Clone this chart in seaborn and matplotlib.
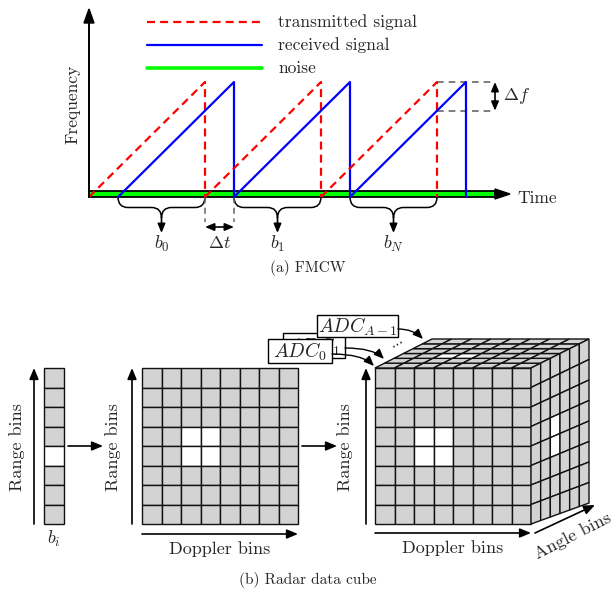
import numpy as np
import matplotlib
matplotlib.use('Agg')
import matplotlib.pyplot as plt
import seaborn as sns
from matplotlib.patches import Polygon, Rectangle, PathPatch
from matplotlib.path import Path

sns.set_style('white')
plt.rcParams['font.family'] = ['cmr10', 'DejaVu Serif']
plt.rcParams['mathtext.fontset'] = 'cm'
plt.rcParams['axes.unicode_minus'] = False

# ---------------- data ----------------
legend_labels = ['transmitted signal', 'received signal', 'noise']
chirp_starts = [0, 4, 8]        # start time of each transmitted chirp
chirp_length = 4                # chirp duration
echo_delay = 1                  # delay of the received echo
time_end = 14                   # end of time axis / noise band
brace_labels = [r'$b_0$', r'$b_1$', r'$b_N$']

n_range_bins = 8
n_doppler_bins = 8
n_angle_bins = 6
column_peak = [(0, 4)]                          # (col, range)
rd_peak = [(2, 3), (3, 3), (2, 4), (3, 4)]      # (doppler, range)
top_peak = [(2, 2), (3, 2)]                     # (doppler, angle)
side_peak = [(2, 3), (2, 4)]                    # (angle, range)
adc_labels = [r'$ADC_0$', r'$ADC_1$', r'$ADC_{A-1}$']

RED, BLUE, GREEN, GRAY = '#ff0000', '#0000ff', '#00ff00', '#d3d3d3'
DGRAY = '#666666'

fig = plt.figure(figsize=(6.15, 5.97), dpi=100)
ax = fig.add_axes([0, 0, 1, 1])
ax.set_xlim(0, 615)
ax.set_ylim(597, 0)
ax.axis('off')

# ---------------- helpers ----------------
def arrow(p0, p1, both=False, ms=12, lw=1.2, color='black', cs=None):
    style = '<|-|>' if both else '-|>'
    style += ',head_length=0.6,head_width=0.25'
    props = dict(arrowstyle=style, mutation_scale=ms, lw=lw, color=color,
                 shrinkA=0, shrinkB=0)
    if cs:
        props['connectionstyle'] = cs
    ax.annotate('', xy=p1, xytext=p0, arrowprops=props)

# ---------------- (a) FMCW ----------------
X0, PX, Y0, FH = 89, 29, 197, 115
def T(t): return X0 + PX * t
def F(f): return Y0 - FH * f

dash = (0, (3.6, 2.3))
# noise band
ax.add_patch(Rectangle((T(0), Y0 - 6), T(time_end) - T(0), 6, fc=GREEN,
                       ec='black', lw=1.3, zorder=2))
# axes arrows
ax.plot([T(0), T(0)], [Y0, 22], color='black', lw=1.4, zorder=4)
ax.add_patch(Polygon([(T(0) - 5, 23), (T(0), 9), (T(0) + 5, 23)], fc='black', ec='black', zorder=4))
ax.add_patch(Polygon([(T(time_end), Y0 - 8), (T(time_end) + 15, Y0 - 3),
                      (T(time_end), Y0 + 2)], fc='black', ec='black', zorder=4))

for s in chirp_starts:
    ax.plot([T(s), T(s + chirp_length), T(s + chirp_length)], [F(0), F(1), F(0)],
            color=RED, lw=1.6, linestyle=dash, zorder=3)
    r = s + echo_delay
    ax.plot([T(r), T(r + chirp_length), T(r + chirp_length)], [F(0), F(1), F(0)],
            color=BLUE, lw=1.6, zorder=3)

# legend
for k, (lab, col) in enumerate(zip(legend_labels, [RED, BLUE, GREEN])):
    y = 22 + 23 * k
    ls = dash if k == 0 else '-'
    lw = 1.6 if k < 2 else 2.6
    ax.plot([147, 262], [y, y], color=col, lw=lw, linestyle=ls)
    ax.text(278, y, lab, fontsize=12.6, va='center', ha='left')

ax.text(73, 104, 'Frequency', rotation=90, fontsize=12.6, ha='center', va='center')
ax.text(517, 198, 'Time', fontsize=12.6, ha='left', va='center')

# delta f
t_last = chirp_starts[-1] + chirp_length
f_rx = (t_last - (chirp_starts[-1] + echo_delay)) / chirp_length
for f in [1, f_rx]:
    ax.plot([T(t_last), T(time_end)], [F(f), F(f)], color=DGRAY, lw=1.2,
            linestyle=(0, (4, 3)))
arrow((T(time_end), F(1)), (T(time_end), F(f_rx)), both=True, ms=9)
ax.text(T(time_end) + 8, (F(1) + F(f_rx)) / 2, r'$\Delta f$', fontsize=13,
        ha='left', va='center')

# delta t
ta, tb = chirp_starts[1], chirp_starts[1] + echo_delay
for t in [ta, tb]:
    ax.plot([T(t), T(t)], [Y0, Y0 + 25], color=DGRAY, lw=1.1, linestyle=(0, (4, 3)))
arrow((T(ta), Y0 + 30), (T(tb), Y0 + 30), both=True, ms=9)
ax.text(T((ta + tb) / 2), 243, r'$\Delta t$', fontsize=13, ha='center', va='center')

# braces
def brace(x0, x1, y, h=21, r=10):
    xm = (x0 + x1) / 2
    h2 = h / 2
    verts = [(x0, y), (x0, y + h2), (x0 + r, y + h2),
             (xm - r, y + h2),
             (xm, y + h2), (xm, y + h),
             (xm, y + h2), (xm + r, y + h2),
             (x1 - r, y + h2),
             (x1, y + h2), (x1, y)]
    codes = [Path.MOVETO, Path.CURVE3, Path.CURVE3, Path.LINETO,
             Path.CURVE3, Path.CURVE3, Path.CURVE3, Path.CURVE3,
             Path.LINETO, Path.CURVE3, Path.CURVE3]
    ax.add_patch(PathPatch(Path(verts, codes), fc='none', ec='black', lw=1.1))
    return xm, y + h

for s, lab in zip(chirp_starts, brace_labels):
    xm, yt = brace(T(s + echo_delay), T(s + chirp_length), Y0)
    arrow((xm, yt), (xm, yt + 15), ms=9)
    ax.text(xm, 244, lab, fontsize=13, ha='center', va='center')

ax.text(308, 268, '(a) FMCW', fontsize=11, ha='center', va='center')

# ---------------- (b) Radar data cube ----------------
def bilerp(P, u, v):
    p00, p10, p01, p11 = [np.array(p, float) for p in P]
    return (1 - u) * (1 - v) * p00 + u * (1 - v) * p10 + (1 - u) * v * p01 + u * v * p11

def face(P, nu, nv, peaks):
    for i in range(nu):
        for j in range(nv):
            c = [bilerp(P, i / nu, j / nv), bilerp(P, (i + 1) / nu, j / nv),
                 bilerp(P, (i + 1) / nu, (j + 1) / nv), bilerp(P, i / nu, (j + 1) / nv)]
            fc = 'white' if (i, j) in peaks else GRAY
            ax.add_patch(Polygon(c, closed=True, fc=fc, ec='#111111', lw=1.0))

TOP, BOT = 368, 524
# range column
face([(44, TOP), (64, TOP), (44, BOT), (64, BOT)], 1, n_range_bins, column_peak)
arrow((34, BOT), (34, TOP), ms=11)
ax.text(17, 447, 'Range bins', rotation=90, fontsize=13, ha='center', va='center')
ax.text(54, 539, r'$b_i$', fontsize=13, ha='center', va='center')
arrow((68, 446), (103, 446), ms=11)

# range-doppler map
GL, GR = 142, 298
face([(GL, TOP), (GR, TOP), (GL, BOT), (GR, BOT)], n_doppler_bins, n_range_bins, rd_peak)
arrow((132, BOT), (132, TOP), ms=11)
ax.text(113, 447, 'Range bins', rotation=90, fontsize=13, ha='center', va='center')
arrow((GL, 534), (GR, 534), ms=11)
ax.text(220, 549, 'Doppler bins', fontsize=13, ha='center', va='center')
arrow((302, 446), (337, 446), ms=11)

# cube
CL, CR = 375, 531
BTL, BTR, BBR = (432, 339), (589, 339), (589, 503)
face([(CL, TOP), (CR, TOP), (CL, BOT), (CR, BOT)], n_doppler_bins, n_range_bins, rd_peak)
face([(CL, TOP), (CR, TOP), BTL, BTR], n_doppler_bins, n_angle_bins, top_peak)
face([(CR, TOP), BTR, (CR, BOT), BBR], n_angle_bins, n_range_bins, side_peak)
arrow((366, BOT), (366, TOP), ms=11)
ax.text(345, 447, 'Range bins', rotation=90, fontsize=13, ha='center', va='center')
arrow((CL, 533), (CR, 533), ms=11)
ax.text(453, 548, 'Doppler bins', fontsize=13, ha='center', va='center')
arrow((535, 533), (595, 505), ms=11)
ax.text(573, 536, 'Angle bins', rotation=27, fontsize=13, ha='center', va='center',
        rotation_mode='anchor')

# ADC boxes (ADC_1 is partly hidden behind ADC_0, as in the original)
boxes = [(283, 333, 345, 358), (317, 315, 398, 337), (268, 339, 332, 363)]
tips = {0: ((332, 354), (374, 366)), 1: ((345, 348), (384, 359)), 2: ((398, 329), (423, 339))}
for z, idx in enumerate([1, 2, 0]):
    x0, y0, x1, y1 = boxes[z]
    ax.add_patch(Rectangle((x0, y0), x1 - x0, y1 - y0, fc='white', ec='black',
                           lw=1.0, zorder=10 + 2 * z))
    ax.text((x0 + x1) / 2, (y0 + y1) / 2 + 1, adc_labels[idx], fontsize=14.3,
            ha='center', va='center', zorder=11 + 2 * z)
for idx, (p0, p1) in tips.items():
    ax.annotate('', xy=p1, xytext=p0, zorder=20,
                arrowprops=dict(arrowstyle='-|>,head_length=0.6,head_width=0.25',
                                mutation_scale=10, lw=1.0, color='black',
                                shrinkA=0, shrinkB=0,
                                connectionstyle='angle3,angleA=0,angleB=-45'))
ax.text(397, 344, r'$\cdots$', rotation=30, fontsize=10, ha='center', va='center')

ax.text(308, 580, '(b) Radar data cube', fontsize=11, ha='center', va='center')

fig.savefig('out.png', dpi=100)
